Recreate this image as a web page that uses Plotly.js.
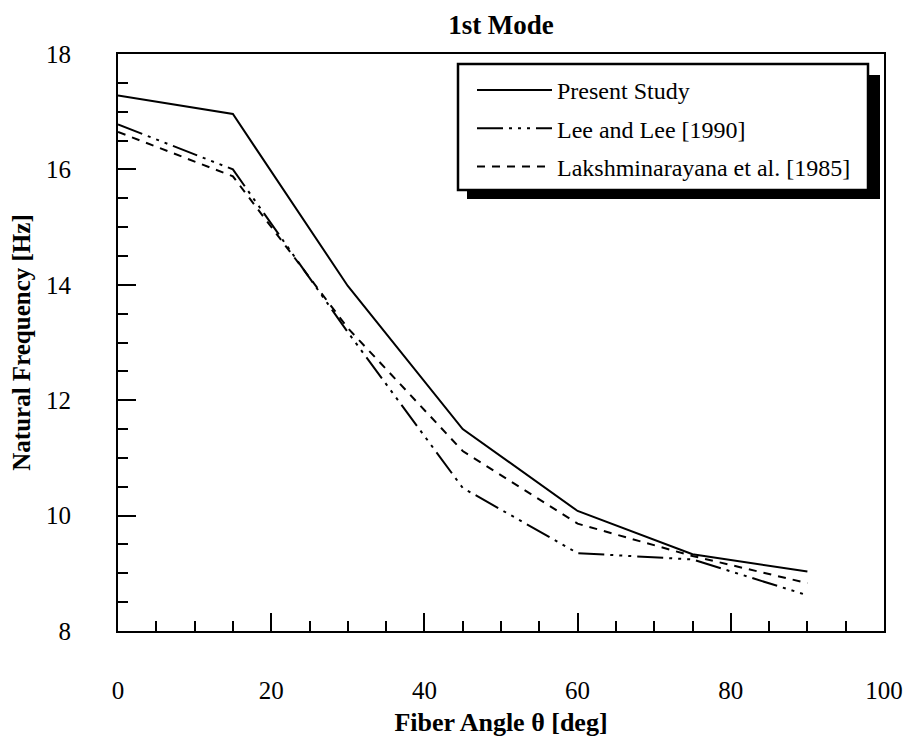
<!DOCTYPE html>
<html>
<head>
<meta charset="utf-8">
<script src="https://cdn.plot.ly/plotly-3.0.1.min.js"></script>
<style>html,body{margin:0;padding:0;background:#fff;}#chart{width:912px;height:744px;}</style>
</head>
<body>
<div id="chart"></div>
<script>
var fiberAngle = [0, 15, 30, 45, 60, 75, 90];
var presentStudy = [17.28, 16.96, 13.98, 11.5, 10.08, 9.33, 9.03];
var leeAndLee = [16.78, 16.0, 13.18, 10.48, 9.35, 9.24, 8.62];
var lakshminarayana = [16.65, 15.88, 13.25, 11.12, 9.86, 9.3, 8.83];
var seriesNames = ["Present Study", "Lee and Lee [1990]", "Lakshminarayana et al. [1985]"];

var FONT = "Liberation Serif, Times New Roman, serif";
var L = 118, R = 28, T = 54, B = 113;
var W = 912 - L - R, H = 744 - T - B;
function px(x){ return (x - L) / W; }
function py(y){ return (744 - B - y) / H; }

var traces = [
  {x: fiberAngle, y: presentStudy, name: seriesNames[0], mode: "lines", legendgroup: "a",
   line: {color: "#000", width: 2, dash: "solid"}},
  {x: fiberAngle, y: leeAndLee, name: seriesNames[1], mode: "lines", legendgroup: "b",
   line: {color: "#000", width: 2, dash: "26px,6px,3px,6px,3px,6px,3px,6px"}},
  {x: fiberAngle, y: lakshminarayana, name: seriesNames[2], mode: "lines", legendgroup: "c",
   line: {color: "#000", width: 2, dash: "8px,7px"}}
];

var layout = {
  width: 912, height: 744,
  margin: {l: L, r: R, t: T, b: B},
  paper_bgcolor: "#fff", plot_bgcolor: "#fff",
  font: {family: FONT, color: "#000", size: 25},
  title: {text: "<b>1st Mode</b>", x: (L + W/2)/912, xanchor: "center", y: 1 - 25/744, yanchor: "middle",
          font: {family: FONT, size: 27, color: "#000"}},
  xaxis: {
    range: [0, 100], dtick: 20, tick0: 0, ticks: "inside", ticklen: 18, tickwidth: 2, tickcolor: "#000",
    showline: true, linecolor: "#000", linewidth: 2, mirror: true, showgrid: false, zeroline: false,
    ticklabelstandoff: 36, tickfont: {family: FONT, size: 25, color: "#000"},
    minor: {dtick: 5, ticks: "inside", ticklen: 10, tickwidth: 2, tickcolor: "#000", showgrid: false},
    title: {text: "<b>Fiber Angle θ [deg]</b>", standoff: 10, font: {family: FONT, size: 26, color: "#000"}}
  },
  yaxis: {
    range: [8, 18], dtick: 2, tick0: 8, ticks: "inside", ticklen: 18, tickwidth: 2, tickcolor: "#000",
    showline: true, linecolor: "#000", linewidth: 2, mirror: true, showgrid: false, zeroline: false,
    ticklabelstandoff: 40, tickfont: {family: FONT, size: 25, color: "#000"},
    minor: {dtick: 0.5, ticks: "inside", ticklen: 10, tickwidth: 2, tickcolor: "#000", showgrid: false},
    title: {text: "<b>Natural Frequency [Hz]</b>", standoff: 8, font: {family: FONT, size: 25, color: "#000"}}
  },
  showlegend: true,
  legend: {
    x: px(472), y: py(68), xanchor: "left", yanchor: "top",
    bgcolor: "rgba(0,0,0,0)", borderwidth: 0,
    font: {family: FONT, size: 24, color: "#000"},
    itemwidth: 75, tracegroupgap: 4, traceorder: "grouped"
  },
  shapes: [
    {type: "rect", xref: "paper", yref: "paper", x0: px(467), x1: px(880), y0: py(75), y1: py(199),
     fillcolor: "#000", line: {width: 0}, layer: "above"},
    {type: "rect", xref: "paper", yref: "paper", x0: px(458), x1: px(868), y0: py(64), y1: py(190),
     fillcolor: "#fff", line: {color: "#000", width: 2.5}, layer: "above"}
  ]
};

Plotly.newPlot("chart", traces, layout, {displayModeBar: false, staticPlot: true});
</script>
</body>
</html>
